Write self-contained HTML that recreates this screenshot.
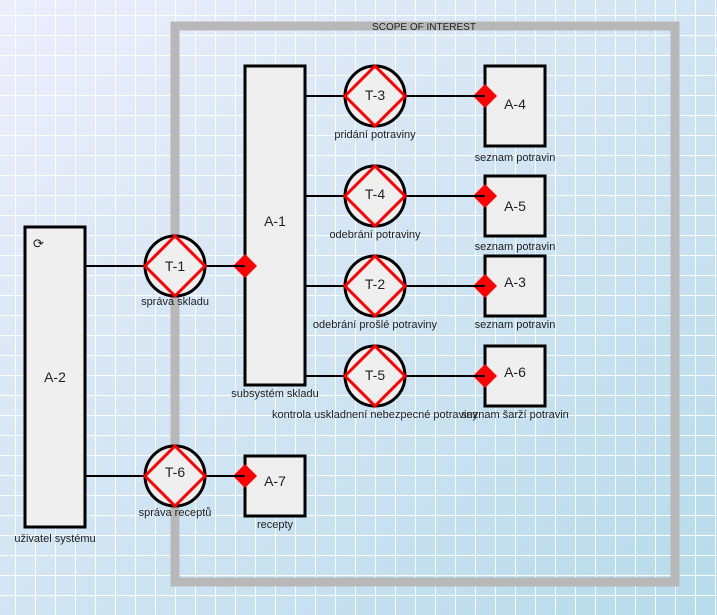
<!DOCTYPE html>
<html><head><meta charset="utf-8"><style>
html,body{margin:0;padding:0;width:717px;height:615px;overflow:hidden}
svg{display:block}
text{font-family:"Liberation Sans",sans-serif;fill:#222}
</style></head><body>
<svg width="717" height="615" xmlns="http://www.w3.org/2000/svg">
<defs>
<linearGradient id="bg" x1="0" y1="0" x2="1" y2="1">
<stop offset="0" stop-color="#eceefc"/><stop offset="1" stop-color="#b6dbea"/>
</linearGradient>
<pattern id="grid" x="15" y="15" width="20" height="20" patternUnits="userSpaceOnUse">
<path d="M0 0H20M0 0V20" stroke="#fff" stroke-width="2" fill="none" opacity="0.9"/>
</pattern>
</defs>
<rect width="717" height="615" fill="url(#bg)"/>
<rect width="717" height="615" fill="url(#grid)"/>
<rect x="175" y="26" width="500" height="556" fill="none" stroke="#b8b8b8" stroke-width="9"/>
<text x="424" y="30" font-size="10" text-anchor="middle">SCOPE OF INTEREST</text>

<g stroke="#000" stroke-width="2">
<line x1="85" y1="266" x2="245" y2="266"/>
<line x1="85" y1="476" x2="245" y2="476"/>
<line x1="305" y1="96" x2="485" y2="96"/>
<line x1="305" y1="196" x2="485" y2="196"/>
<line x1="305" y1="286" x2="485" y2="286"/>
<line x1="305" y1="376" x2="485" y2="376"/>
</g>

<g fill="#efefef" stroke="#000" stroke-width="3">
<rect x="25" y="227" width="60" height="300"/>
<rect x="245" y="66" width="60" height="319"/>
<rect x="485" y="66" width="60" height="80"/>
<rect x="485" y="176" width="60" height="60"/>
<rect x="485" y="256" width="60" height="60"/>
<rect x="485" y="346" width="60" height="60"/>
<rect x="245" y="456" width="60" height="60"/>
</g>

<g fill="#efefef" stroke="#000" stroke-width="3">
<circle cx="175" cy="266" r="30"/><circle cx="175" cy="476" r="30"/>
<circle cx="375" cy="96" r="30"/><circle cx="375" cy="196" r="30"/>
<circle cx="375" cy="286" r="30"/><circle cx="375" cy="376" r="30"/>
</g>
<g fill="none" stroke="#f00" stroke-width="3">
<path d="M175 236L205 266L175 296L145 266Z"/>
<path d="M175 446L205 476L175 506L145 476Z"/>
<path d="M375 66L405 96L375 126L345 96Z"/>
<path d="M375 166L405 196L375 226L345 196Z"/>
<path d="M375 256L405 286L375 316L345 286Z"/>
<path d="M375 346L405 376L375 406L345 376Z"/>
</g>
<g fill="#f00">
<path d="M245 254L257 266L245 278L233 266Z"/>
<path d="M245 464L257 476L245 488L233 476Z"/>
<path d="M485 84L497 96L485 108L473 96Z"/>
<path d="M485 184L497 196L485 208L473 196Z"/>
<path d="M485 274L497 286L485 298L473 286Z"/>
<path d="M485 364L497 376L485 388L473 376Z"/>
</g>
<g stroke="#000" stroke-width="2">
<line x1="473" y1="96" x2="485" y2="96"/><line x1="473" y1="196" x2="485" y2="196"/>
<line x1="473" y1="286" x2="485" y2="286"/><line x1="473" y1="376" x2="485" y2="376"/>
<line x1="233" y1="266" x2="245" y2="266"/><line x1="233" y1="476" x2="245" y2="476"/>
</g>

<g font-size="14" text-anchor="middle">
<text x="55" y="382">A-2</text>
<text x="275" y="226">A-1</text>
<text x="515" y="109">A-4</text>
<text x="515" y="211">A-5</text>
<text x="515" y="287">A-3</text>
<text x="515" y="377">A-6</text>
<text x="275" y="486">A-7</text>
<text x="175" y="271">T-1</text>
<text x="175" y="477">T-6</text>
<text x="375" y="100">T-3</text>
<text x="375" y="199">T-4</text>
<text x="375" y="289">T-2</text>
<text x="375" y="380">T-5</text>
</g>
<text x="33" y="248" font-size="13" fill="#333">⟳</text>
<g font-size="11" text-anchor="middle">
<text x="55" y="542">uživatel systému</text>
<text x="175" y="305">správa skladu</text>
<text x="175" y="516">správa receptů</text>
<text x="375" y="138">pridání potraviny</text>
<text x="375" y="238">odebrání potraviny</text>
<text x="375" y="328">odebrání prošlé potraviny</text>
<text x="375" y="418">kontrola uskladnení nebezpecné potraviny</text>
<text x="515" y="161">seznam potravin</text>
<text x="515" y="250">seznam potravin</text>
<text x="515" y="328">seznam potravin</text>
<text x="515" y="418">seznam šarží potravin</text>
<text x="275" y="397">subsystém skladu</text>
<text x="275" y="528">recepty</text>
</g>
</svg>
</body></html>
